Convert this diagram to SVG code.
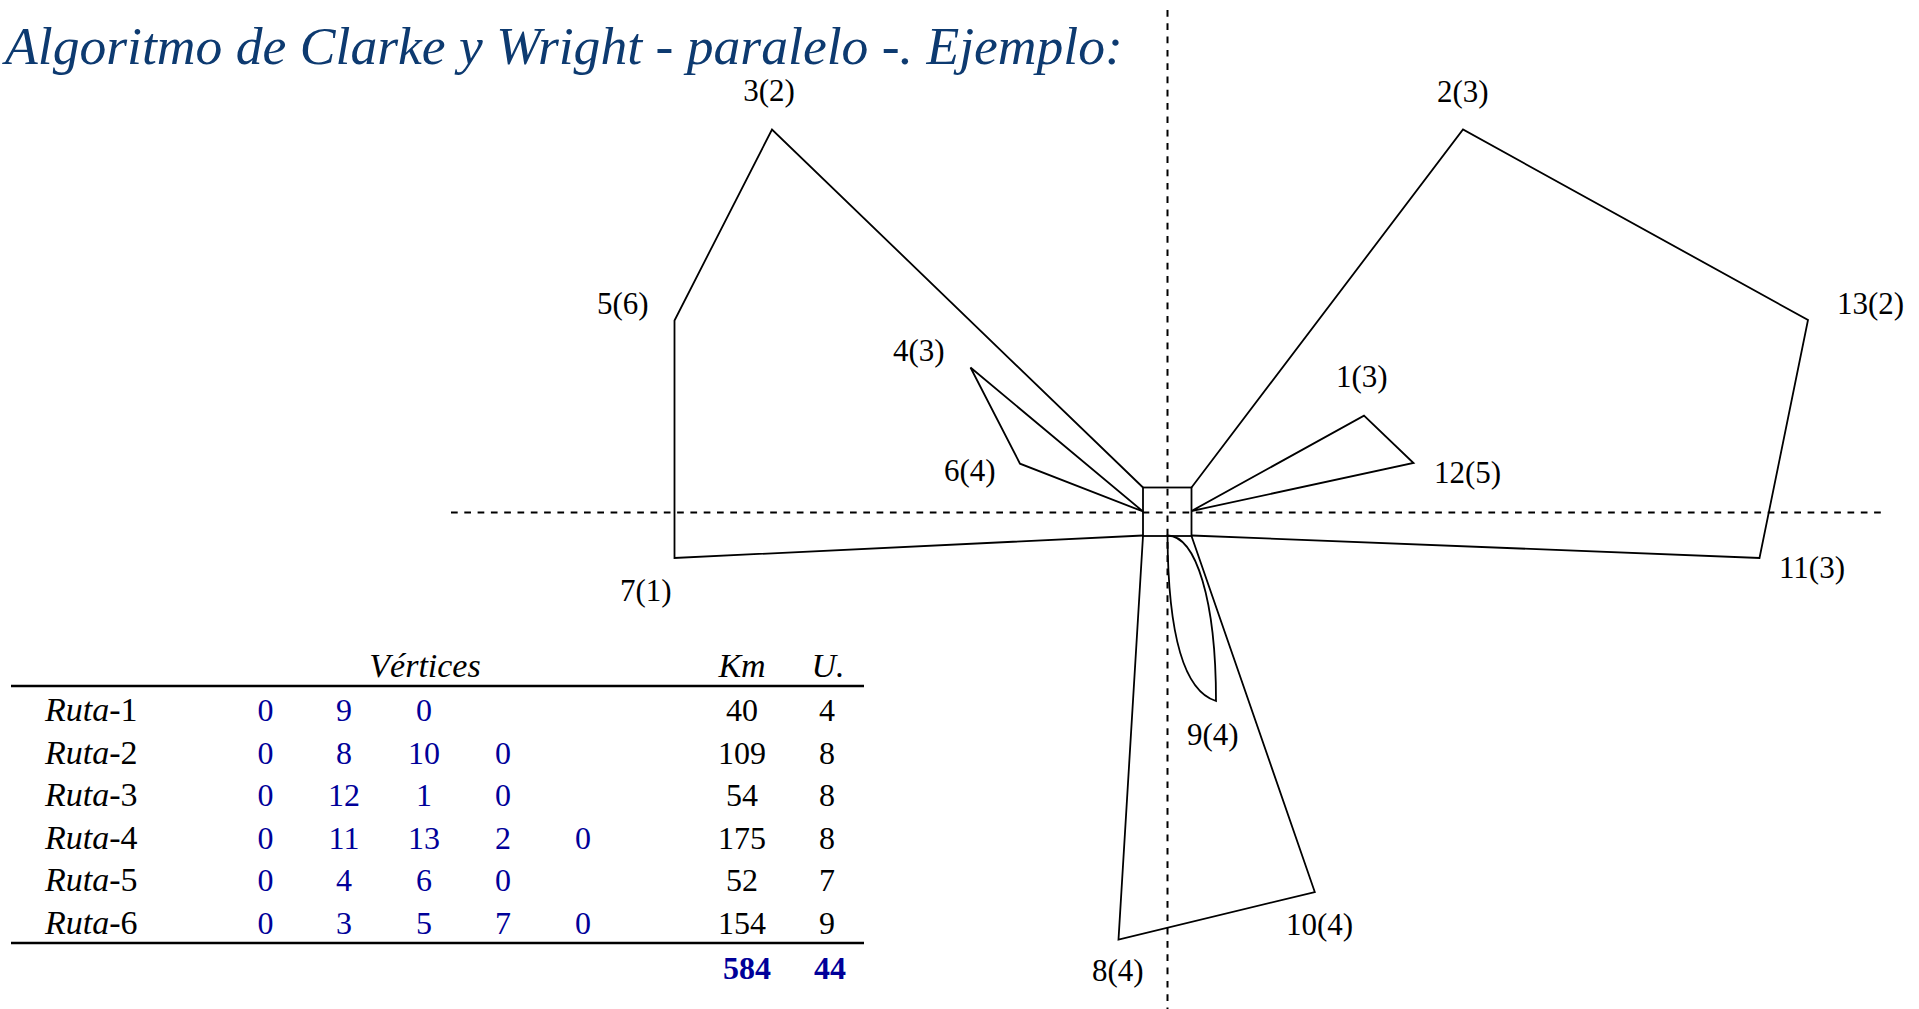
<svg xmlns="http://www.w3.org/2000/svg" width="1919" height="1009" viewBox="0 0 1919 1009">
<style>
.t{font-family:"Liberation Serif","Times New Roman",serif;font-size:31px;fill:#000}
.title{font-family:"Liberation Serif","Times New Roman",serif;font-style:italic;font-size:53.6px;fill:#0d3a70}
.tb{font-family:"Liberation Serif","Times New Roman",serif;font-size:32px;fill:#000}
.lab{font-size:34px}
.v{fill:#000099}
.i{font-style:italic}
.tot{font-weight:bold;fill:#000099}
.route{fill:none;stroke:#000;stroke-width:1.8;stroke-linejoin:miter}
.axis{stroke:#000;stroke-width:2;stroke-dasharray:6.7 6.6;fill:none}
.rule{stroke:#000;stroke-width:2.4}
</style>
<rect width="1919" height="1009" fill="#fff"/>
<text class="title" x="5" y="64">Algoritmo de Clarke y Wright - paralelo -. Ejemplo:</text>

<g id="axes">
<line class="axis" x1="1167.5" y1="10" x2="1167.5" y2="1009"/>
<line class="axis" x1="451" y1="512.5" x2="1886" y2="512.5"/>
</g>

<g id="connectors">
<polyline class="route" points="1143,487.5 772,129.5 674.5,320.5 674.5,558 1143,535.5"/>
<polygon class="route" points="1143,511.5 970.5,367.5 1020,463.7"/>
<polyline class="route" points="1191.5,487.5 1463,129.5 1808,320 1759.5,558 1191.5,535.5"/>
<polygon class="route" points="1191.5,511 1364,415.7 1413.5,463"/>
<polyline class="route" points="1143,536 1118.5,939.5 1314.8,892 1191.5,536"/>
<path class="route" d="M1167.5,535.5 C1168,620 1180,690 1216,701 C1216,600 1196,536 1167.5,535.5 Z"/>
</g>

<g id="depot"><rect class="route" x="1143" y="487.5" width="48.5" height="48.5" stroke-width="2"/></g>

<g id="n3"><text class="t" x="769" y="101" text-anchor="middle">3(2)</text></g>
<g id="n5"><text class="t" x="597" y="314">5(6)</text></g>
<g id="n4"><text class="t" x="893" y="361">4(3)</text></g>
<g id="n6"><text class="t" x="944" y="481">6(4)</text></g>
<g id="n7"><text class="t" x="620" y="601">7(1)</text></g>
<g id="n2"><text class="t" x="1437" y="102">2(3)</text></g>
<g id="n13"><text class="t" x="1837" y="314">13(2)</text></g>
<g id="n1"><text class="t" x="1336" y="387">1(3)</text></g>
<g id="n12"><text class="t" x="1434" y="483">12(5)</text></g>
<g id="n11"><text class="t" x="1779" y="578">11(3)</text></g>
<g id="n9"><text class="t" x="1187" y="745">9(4)</text></g>
<g id="n10"><text class="t" x="1286" y="935">10(4)</text></g>
<g id="n8"><text class="t" x="1092" y="981">8(4)</text></g>

<g id="table">
<text class="tb lab i" x="425" y="677" text-anchor="middle">Vértices</text>
<text class="tb lab i" x="742" y="677" text-anchor="middle">Km</text>
<text class="tb lab i" x="828" y="677" text-anchor="middle">U.</text>
<line class="rule" x1="11" y1="686" x2="864" y2="686"/>
<line class="rule" x1="11" y1="943" x2="864" y2="943"/>

<g text-anchor="middle">
<text class="tb lab" x="45" y="721" text-anchor="start"><tspan class="i">Ruta</tspan>-1</text>
<text class="tb v" x="265.5" y="721">0</text><text class="tb v" x="344" y="721">9</text><text class="tb v" x="424" y="721">0</text>
<text class="tb" x="742" y="721">40</text><text class="tb" x="827" y="721">4</text>

<text class="tb lab" x="45" y="763.5" text-anchor="start"><tspan class="i">Ruta</tspan>-2</text>
<text class="tb v" x="265.5" y="763.5">0</text><text class="tb v" x="344" y="763.5">8</text><text class="tb v" x="424" y="763.5">10</text><text class="tb v" x="503" y="763.5">0</text>
<text class="tb" x="742" y="763.5">109</text><text class="tb" x="827" y="763.5">8</text>

<text class="tb lab" x="45" y="806" text-anchor="start"><tspan class="i">Ruta</tspan>-3</text>
<text class="tb v" x="265.5" y="806">0</text><text class="tb v" x="344" y="806">12</text><text class="tb v" x="424" y="806">1</text><text class="tb v" x="503" y="806">0</text>
<text class="tb" x="742" y="806">54</text><text class="tb" x="827" y="806">8</text>

<text class="tb lab" x="45" y="848.5" text-anchor="start"><tspan class="i">Ruta</tspan>-4</text>
<text class="tb v" x="265.5" y="848.5">0</text><text class="tb v" x="344" y="848.5">11</text><text class="tb v" x="424" y="848.5">13</text><text class="tb v" x="503" y="848.5">2</text><text class="tb v" x="583" y="848.5">0</text>
<text class="tb" x="742" y="848.5">175</text><text class="tb" x="827" y="848.5">8</text>

<text class="tb lab" x="45" y="891" text-anchor="start"><tspan class="i">Ruta</tspan>-5</text>
<text class="tb v" x="265.5" y="891">0</text><text class="tb v" x="344" y="891">4</text><text class="tb v" x="424" y="891">6</text><text class="tb v" x="503" y="891">0</text>
<text class="tb" x="742" y="891">52</text><text class="tb" x="827" y="891">7</text>

<text class="tb lab" x="45" y="933.5" text-anchor="start"><tspan class="i">Ruta</tspan>-6</text>
<text class="tb v" x="265.5" y="933.5">0</text><text class="tb v" x="344" y="933.5">3</text><text class="tb v" x="424" y="933.5">5</text><text class="tb v" x="503" y="933.5">7</text><text class="tb v" x="583" y="933.5">0</text>
<text class="tb" x="742" y="933.5">154</text><text class="tb" x="827" y="933.5">9</text>

<text class="tb tot" x="747" y="979">584</text><text class="tb tot" x="830" y="979">44</text>
</g>
</g>
</svg>
